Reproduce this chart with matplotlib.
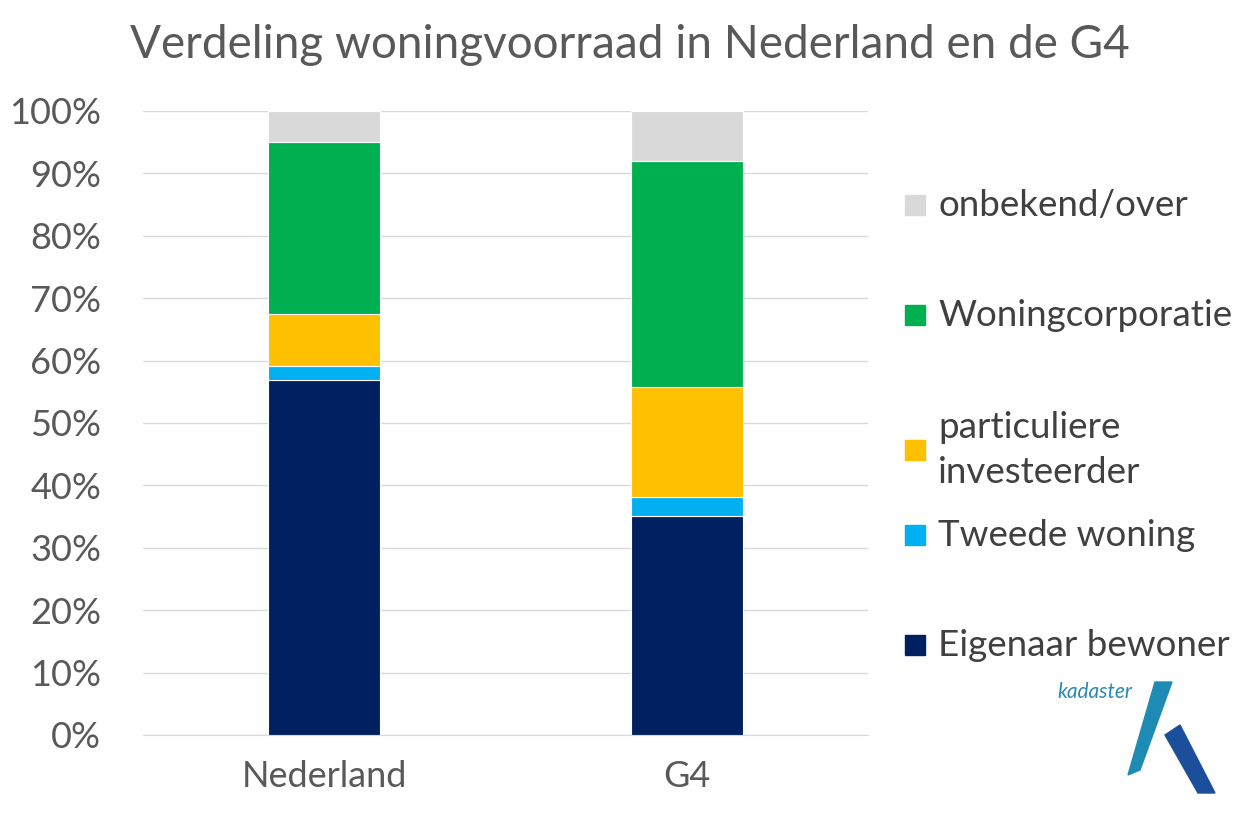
import matplotlib
matplotlib.use("Agg")
import matplotlib.pyplot as plt
from matplotlib.patches import Polygon, Rectangle
import numpy as np

plt.rcParams["font.family"] = "Lato"

categories = ["Nederland", "G4"]
series_names = ["Eigenaar bewoner", "Tweede woning", "particuliere\ninvesteerder", "Woningcorporatie", "onbekend/over"]
eigenaar = [56.9, 35.1]
tweede = [2.2, 3.0]
particulier = [8.4, 17.7]
corporatie = [27.5, 36.2]
onbekend = [5.0, 8.0]
colors = ["#002060", "#00B0F0", "#FFC000", "#00B050", "#D9D9D9"]

W, H = 1260, 824
fig = plt.figure(figsize=(12.6, 8.24), dpi=100)
ax = fig.add_axes([143/W, 1-735/H, 725/W, 624/H])
x = np.arange(len(categories))
bottom = np.zeros(2)
for vals, c in zip([eigenaar, tweede, particulier, corporatie, onbekend], colors):
    ax.bar(x, vals, 0.31, bottom=bottom, color=c, edgecolor="white", linewidth=0.8, zorder=3)
    bottom += np.array(vals)
ax.set_xlim(-0.5, 1.5)
ax.set_ylim(0, 100)
ax.set_yticks(range(0, 101, 10))
ax.set_yticklabels([f"{v}%" for v in range(0, 101, 10)])
ax.set_xticks(x)
ax.set_xticklabels(categories)
ax.tick_params(colors="#595959", labelsize=26, length=0)
ax.tick_params(axis="y", pad=30)
ax.tick_params(axis="x", pad=18)
ax.grid(axis="y", color="#D9D9D9", linewidth=1, zorder=0)
for s in ["top", "right", "left"]:
    ax.spines[s].set_visible(False)
ax.spines["bottom"].set_color("#D9D9D9")
fig.text(630/W, 1-45/H, "Verdeling woningvoorraad in Nederland en de G4", ha="center", va="center",
         fontsize=33, color="#595959")

# legend drawn manually
ys = [645, 535, 450, 315, 205]
for yc, c, name in zip(ys, colors, series_names):
    fig.patches.append(Rectangle((905/W, 1-(yc+10)/H), 20/W, 20/H, transform=fig.transFigure, color=c))
    fig.text(938/W, 1-yc/H, name, fontsize=26.5, color="#404040", va="center", ha="left", linespacing=1.45)

# kadaster logo
fig.text(1095/W, 1-692/H, "kadaster", fontsize=15, style="italic", color="#2A8AB5", ha="center", va="center")
fig.patches.append(Polygon([[1155/W, 1-682/H], [1172/W, 1-682/H], [1140/W, 1-770/H], [1128/W, 1-775/H]],
                           closed=True, transform=fig.transFigure, color="#1E8BB5"))
fig.patches.append(Polygon([[1165/W, 1-735/H], [1180/W, 1-725/H], [1215/W, 1-793/H], [1198/W, 1-793/H]],
                           closed=True, transform=fig.transFigure, color="#1B4F9C"))
fig.savefig("out.png", dpi=100)
